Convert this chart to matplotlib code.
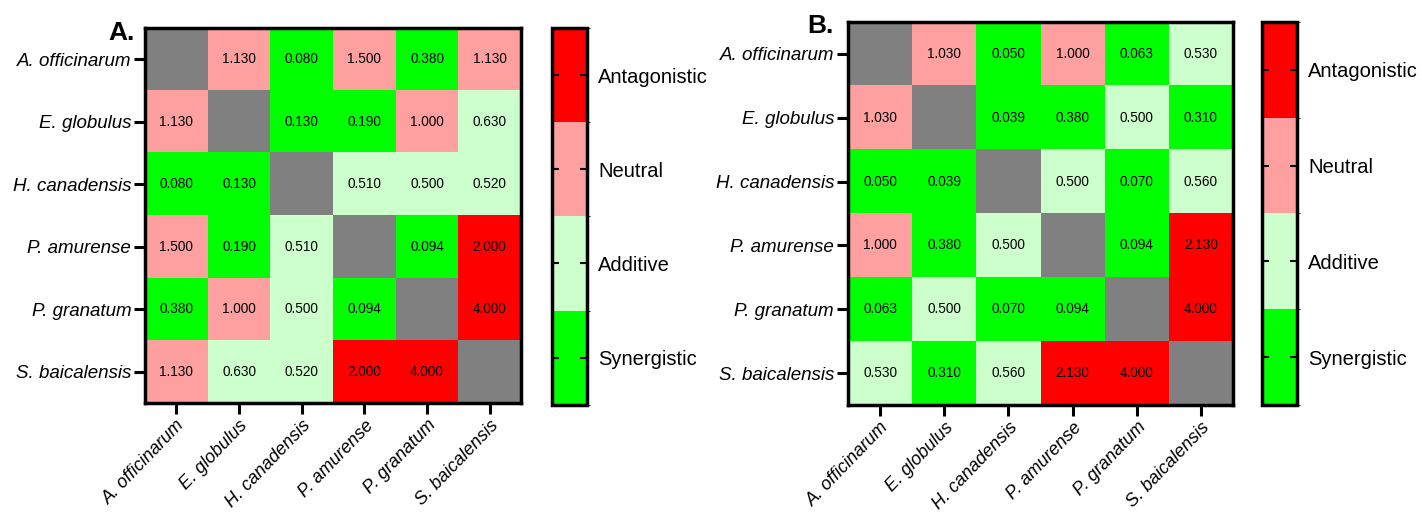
import numpy as np
import matplotlib
matplotlib.use("Agg")
from matplotlib import pyplot as plt
from matplotlib.colors import ListedColormap, BoundaryNorm

plt.rcParams['font.family'] = ['Liberation Sans', 'DejaVu Sans']

species = ["A. officinarum", "E. globulus", "H. canadensis",
           "P. amurense", "P. granatum", "S. baicalensis"]
nan = np.nan
fici_a = np.array([
    [nan, 1.130, 0.080, 1.500, 0.380, 1.130],
    [1.130, nan, 0.130, 0.190, 1.000, 0.630],
    [0.080, 0.130, nan, 0.510, 0.500, 0.520],
    [1.500, 0.190, 0.510, nan, 0.094, 2.000],
    [0.380, 1.000, 0.500, 0.094, nan, 4.000],
    [1.130, 0.630, 0.520, 2.000, 4.000, nan],
])
fici_b = np.array([
    [nan, 1.030, 0.050, 1.000, 0.063, 0.530],
    [1.030, nan, 0.039, 0.380, 0.500, 0.310],
    [0.050, 0.039, nan, 0.500, 0.070, 0.560],
    [1.000, 0.380, 0.500, nan, 0.094, 2.130],
    [0.063, 0.500, 0.070, 0.094, nan, 4.000],
    [0.530, 0.310, 0.560, 2.130, 4.000, nan],
])
categories = ["Synergistic", "Additive", "Neutral", "Antagonistic"]
cuts = [0, 0.5, 1.0, 2.0, 10.0]
colours = ["#00ff00", "#ccffcc", "#ffa0a0", "#ff0000"]

cmap = ListedColormap(colours)
cmap.set_bad("#808080")
norm = BoundaryNorm(cuts, cmap.N)

fig = plt.figure(figsize=(14.22, 5.15), dpi=100)


def heat(rect, crect, data, tag, tagpos):
    ax = fig.add_axes(rect)
    ax.imshow(np.ma.masked_invalid(data), cmap=cmap, norm=norm, aspect='auto')
    for i in range(data.shape[0]):
        for j in range(data.shape[1]):
            if not np.isnan(data[i, j]):
                ax.text(j, i, f"{data[i, j]:.3f}", ha='center', va='center',
                        fontsize=9.8, color='black')
    ax.set_xticks(range(len(species)))
    ax.set_yticks(range(len(species)))
    ax.set_xticklabels(species, rotation=46, ha='right', rotation_mode='anchor',
                       fontsize=13, style='italic')
    ax.set_yticklabels(species, fontsize=13.5, style='italic')
    ax.tick_params(length=8, width=2.2, pad=2)
    for s in ax.spines.values():
        s.set_linewidth(2.5)

    cax = fig.add_axes(crect)
    sm = plt.cm.ScalarMappable(cmap=ListedColormap(colours),
                               norm=BoundaryNorm(range(5), 4))
    cb = fig.colorbar(sm, cax=cax, ticks=[0.5, 1.5, 2.5, 3.5])
    cb.set_ticklabels(categories)
    cb.outline.set_linewidth(2.5)
    cax.tick_params(axis='y', direction='in', left=True, right=True,
                    length=5, width=1.5, labelsize=14.5, pad=8)
    fig.text(tagpos[0], tagpos[1], tag, fontsize=19, fontweight='bold',
             ha='right', va='baseline')
    return ax


heat([0.102, 0.2175, 0.2644, 0.7282], [0.3882, 0.214, 0.0246, 0.7316],
     fici_a, "A.", (0.0945, 0.922))
heat([0.5963, 0.2136, 0.2708, 0.7437], [0.8875, 0.2136, 0.0246, 0.7437],
     fici_b, "B.", (0.5865, 0.936))

fig.savefig("out.png", dpi=100)
